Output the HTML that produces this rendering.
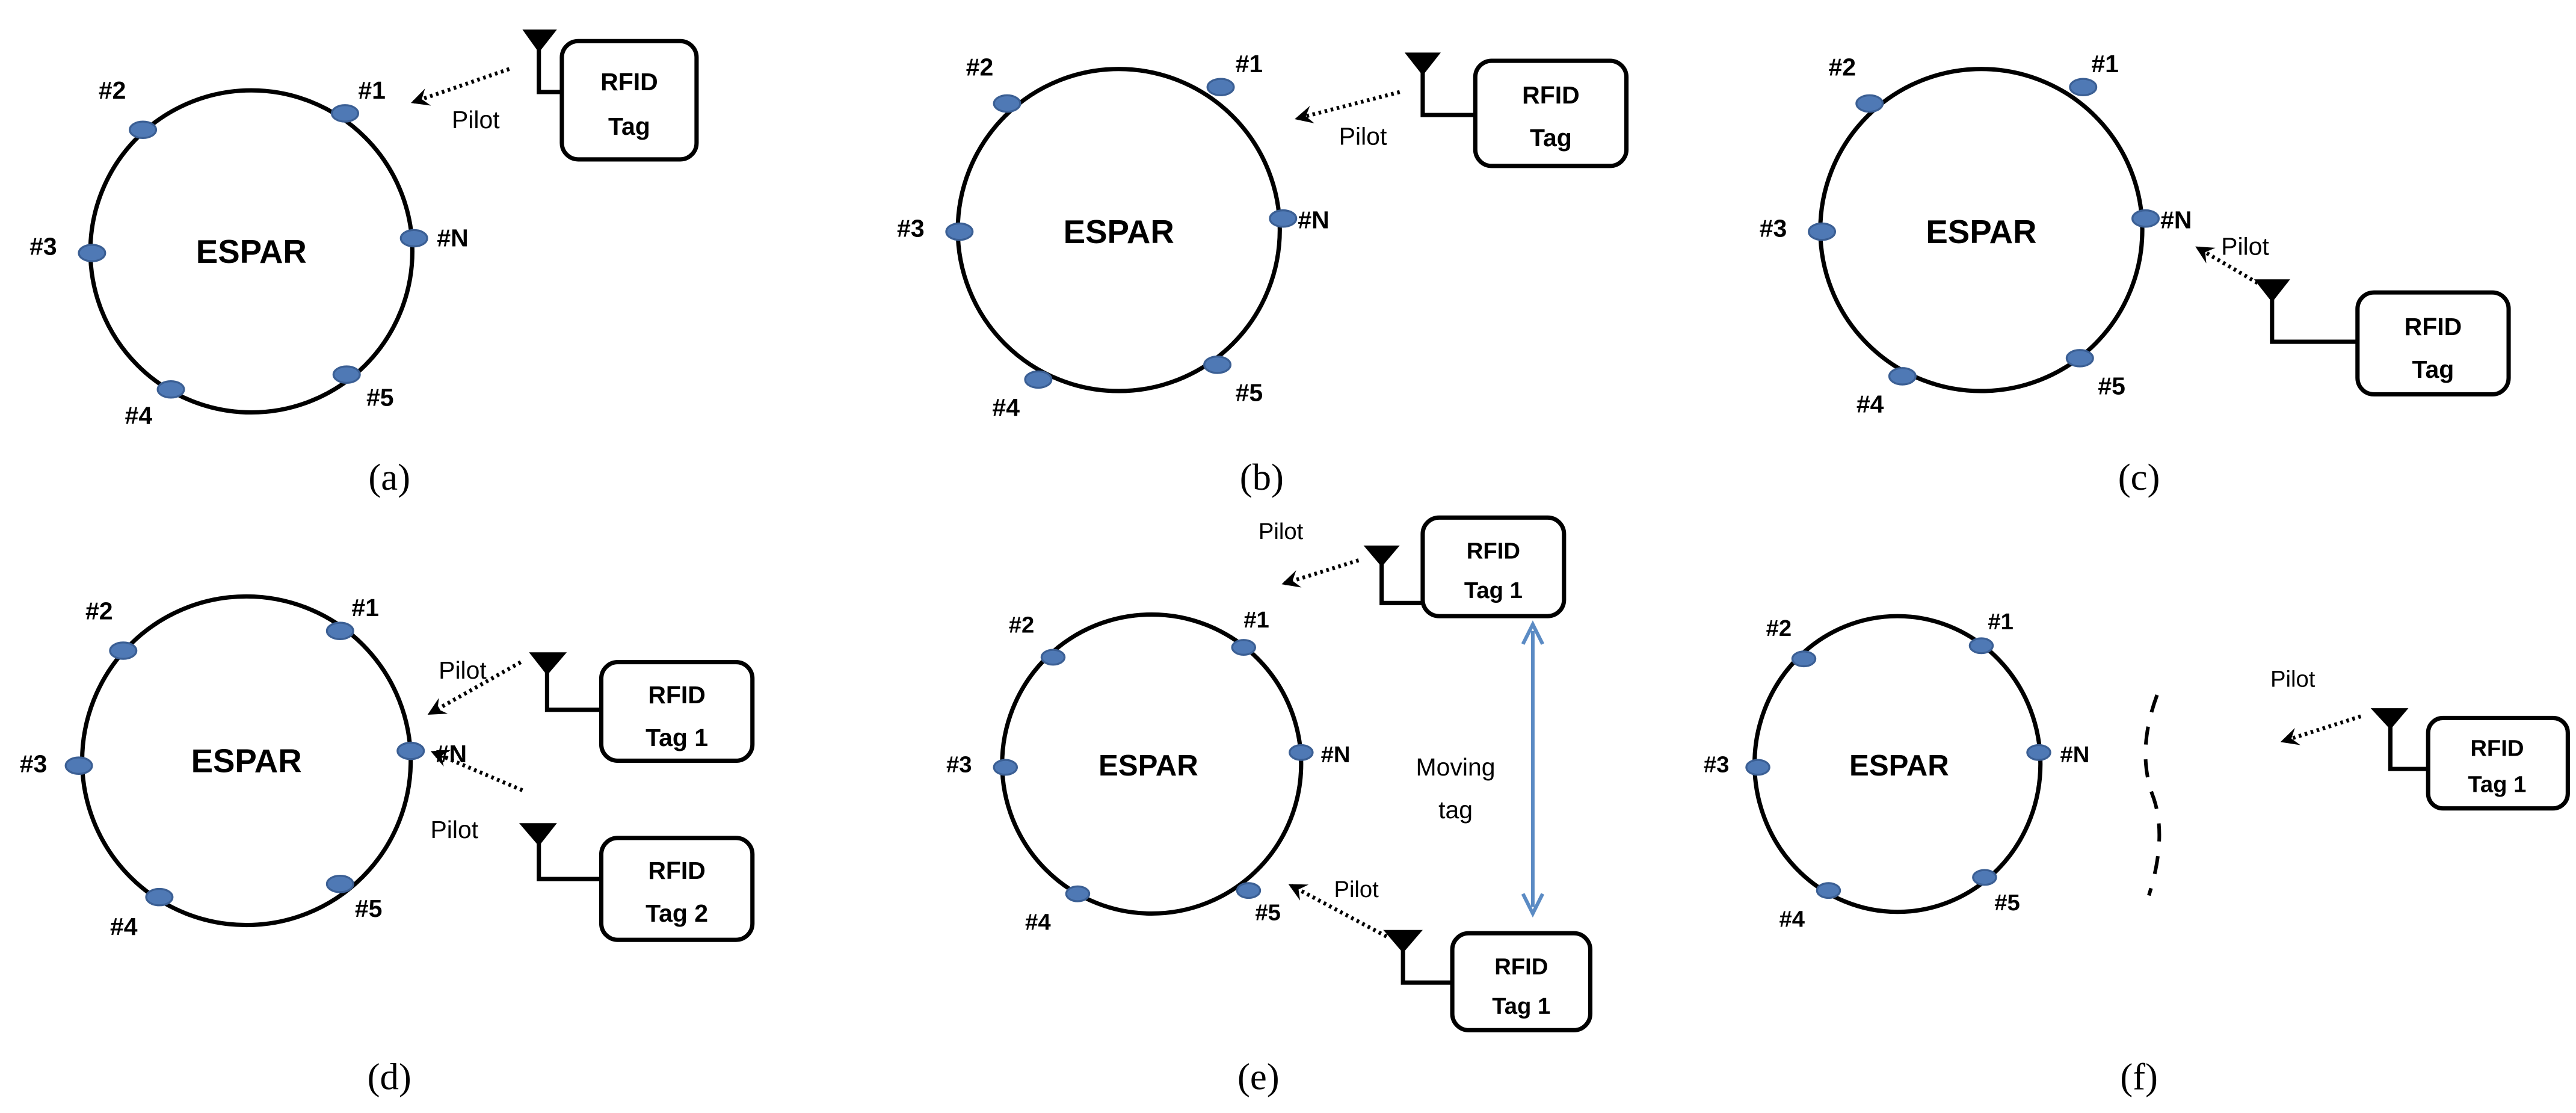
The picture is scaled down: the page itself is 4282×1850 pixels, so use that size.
<!DOCTYPE html>
<html><head><style>
html,body{margin:0;padding:0;background:#fff;}
svg{display:block;}
text{font-family:"Liberation Sans",sans-serif;}
.b{font-weight:bold;}
.n{fill:#4f79b5;stroke:#3b5f94;stroke-width:1.2;}
.c{fill:none;stroke:#000;stroke-width:2.6;}
.d{stroke:#000;stroke-width:2.4;stroke-dasharray:1.6 2.2;fill:none;}
.box{fill:#fff;stroke:#000;stroke-width:2.6;}
.w{fill:none;stroke:#000;stroke-width:2.6;}
.cap{font-family:"Liberation Serif",serif;font-size:23px;}
</style></head><body>
<svg width="4282" height="1850" viewBox="0 0 1568 677.4" preserveAspectRatio="none" xmlns="http://www.w3.org/2000/svg">
<defs>
<marker id="ah" markerWidth="11" markerHeight="11" refX="9" refY="5.5" orient="auto" markerUnits="userSpaceOnUse"><path d="M0,0 L11,5.5 L0,11 L4,5.5 Z" fill="#000"/></marker>
</defs>

<!-- (a) -->
<circle class="c" cx="153" cy="153" r="98"/>
<ellipse class="n" cx="210" cy="69" rx="8" ry="5"/>
<ellipse class="n" cx="87" cy="79" rx="8" ry="5"/>
<ellipse class="n" cx="56" cy="154" rx="8" ry="5"/>
<ellipse class="n" cx="252" cy="145" rx="8" ry="5"/>
<ellipse class="n" cx="211" cy="228" rx="8" ry="5"/>
<ellipse class="n" cx="104" cy="237" rx="8" ry="5"/>
<g class="b" font-size="15">
<text x="60" y="60">#2</text><text x="218" y="60">#1</text>
<text x="18" y="155">#3</text><text x="266" y="150">#N</text>
<text x="223" y="247">#5</text><text x="76" y="258">#4</text>
</g>
<text class="b" x="153" y="160" font-size="20" text-anchor="middle">ESPAR</text>
<line class="d" x1="310" y1="42" x2="252" y2="62" marker-end="url(#ah)"/>
<text x="275" y="78" font-size="15">Pilot</text>
<path d="M318,18 L339,18 L328,32 Z"/>
<polyline class="w" points="328,30 328,56 343,56"/>
<rect class="box" x="342" y="25" width="82" height="72" rx="10"/>
<text class="b" x="383" y="55" font-size="15" text-anchor="middle">RFID</text>
<text class="b" x="383" y="82" font-size="15" text-anchor="middle">Tag</text>
<text class="cap" x="237" y="298" text-anchor="middle">(a)</text>

<!-- (b) -->
<circle class="c" cx="681" cy="140" r="98"/>
<ellipse class="n" cx="743" cy="53" rx="8" ry="5"/>
<ellipse class="n" cx="613" cy="63" rx="8" ry="5"/>
<ellipse class="n" cx="584" cy="141" rx="8" ry="5"/>
<ellipse class="n" cx="781" cy="133" rx="8" ry="5"/>
<ellipse class="n" cx="741" cy="222" rx="8" ry="5"/>
<ellipse class="n" cx="632" cy="231" rx="8" ry="5"/>
<g class="b" font-size="15">
<text x="588" y="46">#2</text><text x="752" y="44">#1</text>
<text x="546" y="144">#3</text><text x="790" y="139">#N</text>
<text x="752" y="244">#5</text><text x="604" y="253">#4</text>
</g>
<text class="b" x="681" y="148" font-size="20" text-anchor="middle">ESPAR</text>
<line class="d" x1="852" y1="56" x2="790" y2="72" marker-end="url(#ah)"/>
<text x="815" y="88" font-size="15">Pilot</text>
<path d="M855,32 L877,32 L866,46 Z"/>
<polyline class="w" points="866,44 866,70 899,70"/>
<rect class="box" x="898" y="37" width="92" height="64" rx="10"/>
<text class="b" x="944" y="63" font-size="15" text-anchor="middle">RFID</text>
<text class="b" x="944" y="89" font-size="15" text-anchor="middle">Tag</text>
<text class="cap" x="768" y="298" text-anchor="middle">(b)</text>

<!-- (c) -->
<circle class="c" cx="1206" cy="140" r="98"/>
<ellipse class="n" cx="1268" cy="53" rx="8" ry="5"/>
<ellipse class="n" cx="1138" cy="63" rx="8" ry="5"/>
<ellipse class="n" cx="1109" cy="141" rx="8" ry="5"/>
<ellipse class="n" cx="1306" cy="133" rx="8" ry="5"/>
<ellipse class="n" cx="1266" cy="218" rx="8" ry="5"/>
<ellipse class="n" cx="1158" cy="229" rx="8" ry="5"/>
<g class="b" font-size="15">
<text x="1113" y="46">#2</text><text x="1273" y="44">#1</text>
<text x="1071" y="144">#3</text><text x="1315" y="139">#N</text>
<text x="1277" y="240">#5</text><text x="1130" y="251">#4</text>
</g>
<text class="b" x="1206" y="148" font-size="20" text-anchor="middle">ESPAR</text>
<line class="d" x1="1384" y1="178" x2="1338" y2="151" marker-end="url(#ah)"/>
<text x="1352" y="155" font-size="15">Pilot</text>
<path d="M1372,170 L1394,170 L1383,184 Z"/>
<polyline class="w" points="1383,182 1383,208 1436,208"/>
<rect class="box" x="1435" y="178" width="92" height="62" rx="10"/>
<text class="b" x="1481" y="204" font-size="15" text-anchor="middle">RFID</text>
<text class="b" x="1481" y="230" font-size="15" text-anchor="middle">Tag</text>
<text class="cap" x="1302" y="298" text-anchor="middle">(c)</text>

<!-- (d) -->
<circle class="c" cx="150" cy="463" r="100"/>
<ellipse class="n" cx="207" cy="384" rx="8" ry="5"/>
<ellipse class="n" cx="75" cy="396" rx="8" ry="5"/>
<ellipse class="n" cx="48" cy="466" rx="8" ry="5"/>
<ellipse class="n" cx="250" cy="457" rx="8" ry="5"/>
<ellipse class="n" cx="207" cy="538" rx="8" ry="5"/>
<ellipse class="n" cx="97" cy="546" rx="8" ry="5"/>
<g class="b" font-size="15">
<text x="52" y="377">#2</text><text x="214" y="375">#1</text>
<text x="12" y="470">#3</text><text x="265" y="464">#N</text>
<text x="216" y="558">#5</text><text x="67" y="569">#4</text>
</g>
<text class="b" x="150" y="470" font-size="20" text-anchor="middle">ESPAR</text>
<line class="d" x1="317" y1="403" x2="262" y2="434" marker-end="url(#ah)"/>
<text x="267" y="413" font-size="15">Pilot</text>
<path d="M322,397 L345,397 L333,411 Z"/>
<polyline class="w" points="333,409 333,432 367,432"/>
<rect class="box" x="366" y="403" width="92" height="60" rx="10"/>
<text class="b" x="412" y="428" font-size="15" text-anchor="middle">RFID</text>
<text class="b" x="412" y="454" font-size="15" text-anchor="middle">Tag 1</text>
<line class="d" x1="318" y1="481" x2="264" y2="458" marker-end="url(#ah)"/>
<text x="262" y="510" font-size="15">Pilot</text>
<path d="M316,501 L339,501 L328,515 Z"/>
<polyline class="w" points="328,513 328,535 367,535"/>
<rect class="box" x="366" y="510" width="92" height="62" rx="10"/>
<text class="b" x="412" y="535" font-size="15" text-anchor="middle">RFID</text>
<text class="b" x="412" y="561" font-size="15" text-anchor="middle">Tag 2</text>
<text class="cap" x="237" y="663" text-anchor="middle">(d)</text>

<!-- (e) -->
<circle class="c" cx="701" cy="465" r="91"/>
<ellipse class="n" cx="757" cy="394" rx="7" ry="4.5"/>
<ellipse class="n" cx="641" cy="400" rx="7" ry="4.5"/>
<ellipse class="n" cx="612" cy="467" rx="7" ry="4.5"/>
<ellipse class="n" cx="792" cy="458" rx="7" ry="4.5"/>
<ellipse class="n" cx="760" cy="542" rx="7" ry="4.5"/>
<ellipse class="n" cx="656" cy="544" rx="7" ry="4.5"/>
<g class="b" font-size="14">
<text x="614" y="385">#2</text><text x="757" y="382">#1</text>
<text x="576" y="470">#3</text><text x="804" y="464">#N</text>
<text x="764" y="560">#5</text><text x="624" y="566">#4</text>
</g>
<text class="b" x="699" y="472" font-size="18" text-anchor="middle">ESPAR</text>
<line class="d" x1="827" y1="341" x2="782" y2="355" marker-end="url(#ah)"/>
<text x="766" y="328" font-size="14">Pilot</text>
<path d="M830,332 L852,332 L841,345 Z"/>
<polyline class="w" points="841,343 841,367 867,367"/>
<rect class="box" x="866" y="315" width="86" height="60" rx="10"/>
<text class="b" x="909" y="340" font-size="14" text-anchor="middle">RFID</text>
<text class="b" x="909" y="364" font-size="14" text-anchor="middle">Tag 1</text>
<line x1="933" y1="384" x2="933" y2="552" stroke="#5b8bc4" stroke-width="2.2"/>
<polyline points="927,392 933,380 939,392" fill="none" stroke="#5b8bc4" stroke-width="2.2"/>
<polyline points="927,544 933,556 939,544" fill="none" stroke="#5b8bc4" stroke-width="2.2"/>
<text x="886" y="472" font-size="15" text-anchor="middle">Moving</text>
<text x="886" y="498" font-size="15" text-anchor="middle">tag</text>
<line class="d" x1="844" y1="570" x2="786" y2="539" marker-end="url(#ah)"/>
<text x="812" y="546" font-size="14">Pilot</text>
<path d="M842,566 L866,566 L854,580 Z"/>
<polyline class="w" points="854,578 854,598 885,598"/>
<rect class="box" x="884" y="568" width="84" height="59" rx="10"/>
<text class="b" x="926" y="593" font-size="14" text-anchor="middle">RFID</text>
<text class="b" x="926" y="617" font-size="14" text-anchor="middle">Tag 1</text>
<text class="cap" x="766" y="663" text-anchor="middle">(e)</text>

<!-- (f) -->
<ellipse class="c" cx="1155" cy="465" rx="87" ry="90"/>
<ellipse class="n" cx="1206" cy="393" rx="7" ry="4.5"/>
<ellipse class="n" cx="1098" cy="401" rx="7" ry="4.5"/>
<ellipse class="n" cx="1070" cy="467" rx="7" ry="4.5"/>
<ellipse class="n" cx="1241" cy="458" rx="7" ry="4.5"/>
<ellipse class="n" cx="1208" cy="534" rx="7" ry="4.5"/>
<ellipse class="n" cx="1113" cy="542" rx="7" ry="4.5"/>
<g class="b" font-size="14">
<text x="1075" y="387">#2</text><text x="1210" y="383">#1</text>
<text x="1037" y="470">#3</text><text x="1254" y="464">#N</text>
<text x="1214" y="554">#5</text><text x="1083" y="564">#4</text>
</g>
<text class="b" x="1156" y="472" font-size="18" text-anchor="middle">ESPAR</text>
<path d="M1313,423 Q1300,458 1311,486 Q1319,510 1308,545" fill="none" stroke="#000" stroke-width="2.2" stroke-dasharray="11 9"/>
<line class="d" x1="1437" y1="436" x2="1390" y2="451" marker-end="url(#ah)"/>
<text x="1382" y="418" font-size="14">Pilot</text>
<path d="M1443,431 L1466,431 L1455,444 Z"/>
<polyline class="w" points="1455,442 1455,468 1479,468"/>
<rect class="box" x="1478" y="437" width="85" height="55" rx="9"/>
<text class="b" x="1520" y="460" font-size="14" text-anchor="middle">RFID</text>
<text class="b" x="1520" y="482" font-size="14" text-anchor="middle">Tag 1</text>
<text class="cap" x="1302" y="663" text-anchor="middle">(f)</text>
</svg>
</body></html>
